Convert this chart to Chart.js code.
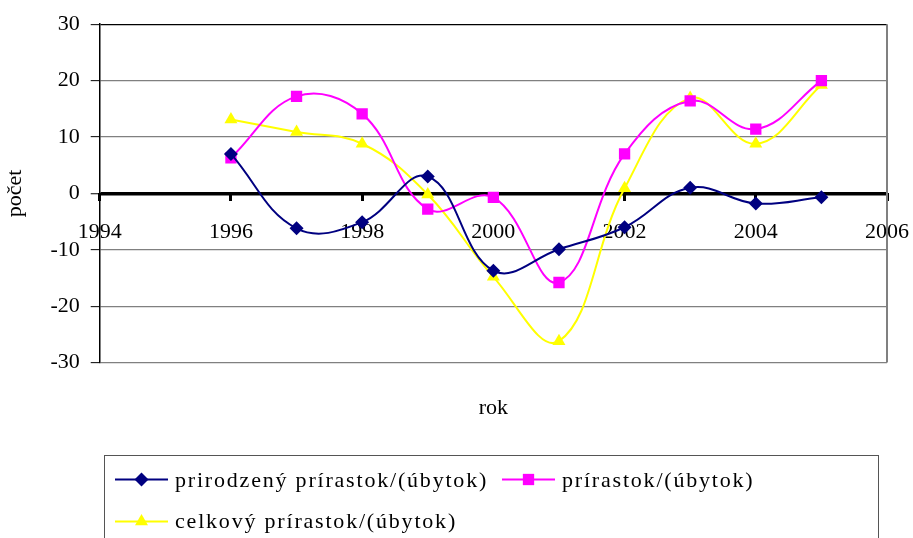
<!DOCTYPE html>
<html>
<head>
<meta charset="utf-8">
<script src="https://cdn.jsdelivr.net/npm/chart.js"></script>
<style>
  html, body { margin: 0; padding: 0; background: #fff; }
  #wrap { width: 913px; height: 538px; }
</style>
</head>
<body>
<div id="wrap"><canvas id="chart" width="913" height="538"></canvas></div>
<script>
const years = [1996, 1997, 1998, 1999, 2000, 2001, 2002, 2003, 2004, 2005];
const prirodzeny = [7, -6.2, -5.1, 3, -13.7, -9.9, -6, 1, -1.8, -0.7];
const prirastok = [6.3, 17.2, 14.1, -2.8, -0.7, -15.8, 7, 16.4, 11.4, 20];
const celkovy = [13.1, 10.9, 8.8, -0.2, -14.8, -26.2, 0.9, 16.9, 8.8, 19.2];
const seriesNames = ["prirodzený prírastok/(úbytok)", "prírastok/(úbytok)", "celkový prírastok/(úbytok)"];

const FONT = "'Liberation Serif', 'Times New Roman', serif";

function pairs(values) {
    return years.map((y, i) => ({ x: y, y: values[i] }));
}

function makeSet(label, values, color, style, radius) {
    return {
        label: label,
        data: pairs(values),
        borderColor: color,
        backgroundColor: color,
        borderWidth: 2,
        pointStyle: style,
        pointRadius: radius,
        pointHoverRadius: radius,
        pointBorderWidth: 0,
        tension: 0.4,
        fill: false
    };
}

// legend drawn in a box below the plot, like the original
const boxLegend = {
    id: 'boxLegend',
    afterDraw(chart) {
        const ctx = chart.ctx;
        ctx.save();
        ctx.strokeStyle = '#555';
        ctx.lineWidth = 1;
        ctx.strokeRect(104.5, 455.5, 774, 120);

        const spots = [[115, 479.5, 487], [502, 479.5, 487], [115, 521.5, 528]];
        chart.data.datasets.forEach((ds, i) => {
            const [x, ly, by] = spots[i];
            ctx.strokeStyle = ds.borderColor;
            ctx.lineWidth = 2;
            ctx.beginPath();
            ctx.moveTo(x, ly);
            ctx.lineTo(x + 53, ly);
            ctx.stroke();
            ctx.fillStyle = ds.backgroundColor;
            ctx.strokeStyle = ds.borderColor;
            Chart.helpers.drawPoint(ctx, { pointStyle: ds.pointStyle, radius: ds.pointRadius, borderWidth: 0, rotation: 0 }, x + 26.5, ly);
            ctx.fillStyle = '#000';
            ctx.font = "22px " + FONT;
            ctx.textBaseline = 'alphabetic';
            ctx.textAlign = 'left';
            ctx.letterSpacing = '1.8px';
            ctx.fillText(ds.label, x + 60, by);
        });
        ctx.restore();
    }
};

// right edge of plot area
const frame = {
    id: 'frame',
    beforeDatasetsDraw(chart) {
        const a = chart.chartArea;
        const ctx = chart.ctx;
        ctx.save();
        ctx.strokeStyle = '#808080';
        ctx.lineWidth = 2;
        ctx.beginPath();
        ctx.moveTo(a.right, a.top);
        ctx.lineTo(a.right, a.bottom);
        ctx.stroke();
        ctx.restore();
    }
};

function drawChart() {
    new Chart(document.getElementById('chart'), {
        type: 'line',
        data: {
            datasets: [
                makeSet(seriesNames[0], prirodzeny, '#000080', 'rectRot', 7),
                makeSet(seriesNames[1], prirastok, '#FF00FF', 'rect', 8),
                makeSet(seriesNames[2], celkovy, '#FFFF00', 'triangle', 7.5)
            ]
        },
        options: {
            responsive: false,
            animation: false,
            layout: { padding: { left: 0, top: 22, right: 26, bottom: 117 } },
            plugins: {
                legend: { display: false },
                tooltip: { enabled: false }
            },
            scales: {
                x: {
                    type: 'linear',
                    position: { y: 0 },
                    min: 1994,
                    max: 2006,
                    ticks: { stepSize: 2, color: '#000', font: { family: FONT, size: 22 }, padding: 18, callback: v => String(v) },
                    grid: { drawOnChartArea: false, drawTicks: true, tickLength: 8, tickColor: '#000', tickWidth: 3 },
                    border: { display: false },
                    afterFit: s => { s.paddingLeft = 0; s.paddingRight = 0; }
                },
                xb: {
                    type: 'linear',
                    position: 'bottom',
                    ticks: { display: false },
                    grid: { display: false, drawTicks: false },
                    border: { display: false },
                    title: { display: true, text: 'rok', color: '#000', font: { family: FONT, size: 22 }, padding: { top: 32, bottom: 0 } }
                },
                y: {
                    min: -30,
                    max: 30,
                    ticks: { stepSize: 10, color: '#000', font: { family: FONT, size: 22 }, padding: 11 },
                    grid: {
                        color: c => (c.tick && (c.tick.value === 0 || c.tick.value === 30)) ? '#000' : '#808080',
                        lineWidth: c => (c.tick && c.tick.value === 0) ? 3.5 : 1.3,
                        tickLength: 9,
                        tickColor: '#000',
                        tickWidth: 1
                    },
                    border: { display: true, color: '#000', width: 1.5 },
                    title: { display: true, text: 'počet', color: '#000', font: { family: FONT, size: 22 }, padding: { top: 2, bottom: 11 } }
                }
            }
        },
        plugins: [frame, boxLegend]
    });
}

document.fonts.load('22px "Liberation Serif"').then(drawChart, drawChart);
</script>
</body>
</html>
